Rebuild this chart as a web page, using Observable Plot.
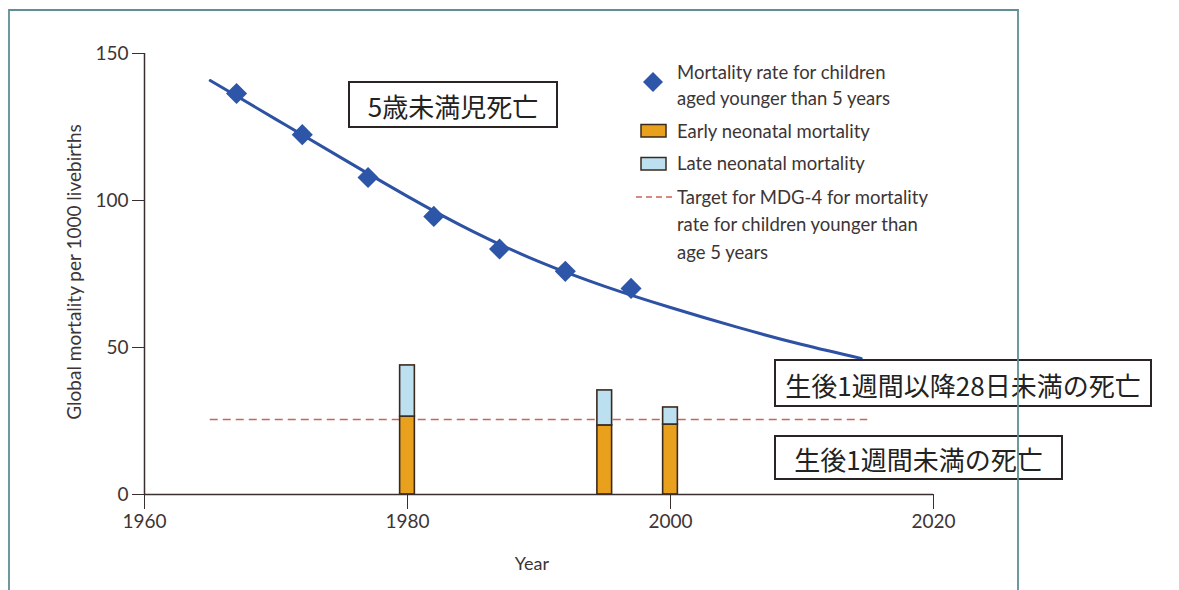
<!DOCTYPE html>
<html><head><meta charset="utf-8">
<script src="https://cdn.jsdelivr.net/npm/d3@7"></script>
<script src="https://cdn.jsdelivr.net/npm/@observablehq/plot@0.6"></script>
<style>html,body{margin:0;padding:0;background:#fff} svg{display:block}</style>
</head><body><div id="chart"></div>
<script>
// ---- data ----
const under5Years = [1967, 1972, 1977, 1982, 1987, 1992, 1997];
const under5Values = [136.4, 122.4, 107.8, 94.6, 83.5, 75.9, 70.1];
const trendYears = [1965, 1970, 1975, 1980, 1985, 1990, 1995, 2000, 2005, 2010, 2014.5];
const trendValues = [140.8, 127.6, 114.4, 101.4, 89.4, 79.2, 70.8, 63.6, 57.0, 51.0, 46.3];
const barYears = [1980, 1995, 2000];
const earlyNeonatal = [26.5, 23.5, 23.8];
const lateNeonatal = [17.4, 11.9, 5.8];
const targetYears = [1965, 2015];
const targetValue = 25.5;
const xTicks = [1960, 1980, 2000, 2020];
const yTicks = [0, 50, 100, 150];
const legendLabels = [
  ["Mortality rate for children", "aged younger than 5 years"],
  ["Early neonatal mortality"],
  ["Late neonatal mortality"],
  ["Target for MDG-4 for mortality", "rate for children younger than", "age 5 years"]
];
const boxLabels = ["5歳未満児死亡", "生後1週間以降28日未満の死亡", "生後1週間未満の死亡"];
const xLabel = "Year";
const yLabel = "Global mortality per 1000 livebirths";

// ---- build ----
const axisColor = "#3a2f2f";
const textColor = "#3d3535";
const lineColor = "#2d51a3";
const diamondColor = "#2d55a8";
const earlyColor = "#e9a11d";
const lateColor = "#bde0f1";
const targetColor = "#c8665c";

const trend = trendYears.map((yr, i) => ({year: yr, value: trendValues[i]}));
const pts = under5Years.map((yr, i) => ({year: yr, value: under5Values[i]}));
const bars = barYears.flatMap((yr, i) => [
  {year: yr, part: "early", lo: 0, hi: earlyNeonatal[i]},
  {year: yr, part: "late", lo: earlyNeonatal[i], hi: earlyNeonatal[i] + lateNeonatal[i]}
]);
const half = 0.56;

const plot = Plot.plot({
  width: 1179, height: 590,
  marginLeft: 144, marginRight: 246, marginTop: 53, marginBottom: 96,
  style: {fontFamily: "Lato, sans-serif", background: "#fff", overflow: "visible"},
  x: {domain: [1960, 2020]},
  y: {domain: [0, 150]},
  color: {domain: ["early", "late"], range: [earlyColor, lateColor]},
  marks: [
    Plot.ruleY([targetValue], {x1: targetYears[0], x2: targetYears[1], stroke: targetColor, strokeWidth: 1.6, strokeDasharray: "8,5"}),
    Plot.rectY(bars, {x1: d => d.year - half, x2: d => d.year + half, y1: "lo", y2: "hi", fill: "part", stroke: "#3a2a1e", strokeWidth: 1.6}),
    Plot.line(trend, {x: "year", y: "value", stroke: lineColor, strokeWidth: 3, curve: "natural"}),
    Plot.dot(pts, {x: "year", y: "value", symbol: "diamond2", r: 9.5, fill: diamondColor, stroke: "none"}),
    Plot.ruleY([0], {x1: 1960, x2: 2020, stroke: axisColor, strokeWidth: 1.5}),
    Plot.ruleX([1960], {y1: 0, y2: 150, stroke: axisColor, strokeWidth: 1.5}),
    Plot.axisX({ticks: xTicks, tickFormat: d => String(d), tickSize: 15, tickPadding: 5, label: null, fontSize: 19, stroke: axisColor, fill: textColor}),
    Plot.axisY({ticks: yTicks, tickSize: 12, tickPadding: 4, label: null, fontSize: 19, stroke: axisColor, fill: textColor})
  ]
});
document.getElementById("chart").appendChild(plot);

const svg = d3.select(plot);

// axis titles
svg.append("text").attr("x", 532).attr("y", 563).attr("text-anchor", "middle").attr("dominant-baseline", "central")
  .attr("font-size", 18).attr("fill", textColor).text(xLabel);
svg.append("text").attr("transform", "translate(73,272) rotate(-90)").attr("text-anchor", "middle").attr("dominant-baseline", "central")
  .attr("font-size", 19).attr("fill", textColor).text(yLabel);

// legend
const lg = svg.append("g").attr("font-size", 18.5).attr("fill", textColor).attr("text-anchor", "start");
const lineYs = [[72, 98], [131], [163], [197, 224, 252]];
legendLabels.forEach((lines, i) => {
  lines.forEach((t, j) => {
    lg.append("text").attr("x", 677).attr("y", lineYs[i][j]).attr("dominant-baseline", "central").text(t);
  });
});
lg.append("path").attr("transform", "translate(653,82)").attr("d", d3.symbol(d3.symbolDiamond2, Math.PI * 9 * 9)()).attr("fill", diamondColor);
lg.append("rect").attr("x", 641).attr("y", 124.5).attr("width", 25).attr("height", 12.5).attr("fill", earlyColor).attr("stroke", "#3a2a1e").attr("stroke-width", 1.5);
lg.append("rect").attr("x", 641).attr("y", 157.5).attr("width", 25).attr("height", 12.5).attr("fill", lateColor).attr("stroke", "#3a2a1e").attr("stroke-width", 1.5);
lg.append("line").attr("x1", 636).attr("x2", 674).attr("y1", 197).attr("y2", 197).attr("stroke", targetColor).attr("stroke-width", 1.5).attr("stroke-dasharray", "6,4");

// Japanese annotation boxes
const boxes = [
  {x: 349, y: 82, w: 208, h: 45, label: boxLabels[0]},
  {x: 775, y: 360, w: 376, h: 46, label: boxLabels[1]},
  {x: 775, y: 436, w: 287, h: 43, label: boxLabels[2]}
];
boxes.forEach(b => {
  svg.append("rect").attr("x", b.x).attr("y", b.y).attr("width", b.w).attr("height", b.h)
    .attr("fill", "#fff").attr("stroke", "#2a2424").attr("stroke-width", 2);
  svg.append("text").attr("x", b.x + b.w / 2).attr("y", b.y + b.h / 2 + 1).attr("text-anchor", "middle").attr("dominant-baseline", "central")
    .attr("font-family", "'Noto Sans CJK JP', sans-serif").attr("font-size", 26).attr("fill", "#222").text(b.label);
});

// outer frame
svg.append("path").attr("d", "M9,594V10H1018V594").attr("fill", "none").attr("stroke", "#5e8f93").attr("stroke-width", 1.8);
</script>
</body></html>
